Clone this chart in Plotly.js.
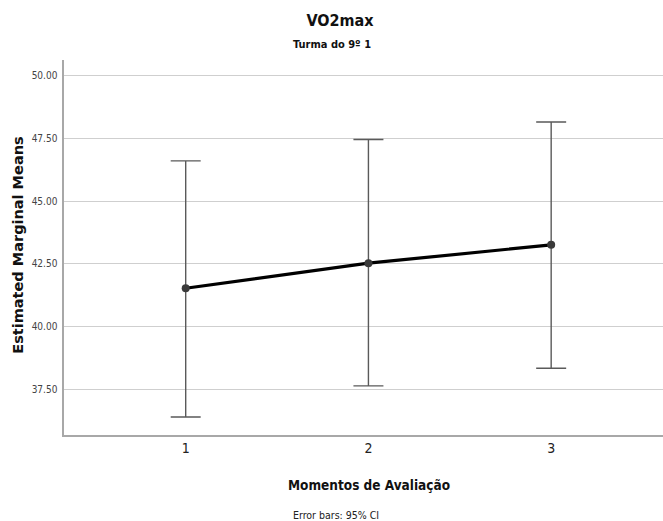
<!DOCTYPE html>
<html>
<head>
<meta charset="utf-8">
<script src="https://cdn.plot.ly/plotly-3.0.1.min.js"></script>
<style>
  html, body { margin: 0; padding: 0; background: #fff; }
  #chart { width: 663px; height: 521px; }
</style>
</head>
<body>
<div id="chart"></div>
<script>
// Estimated marginal means of VO2max at each assessment moment, with 95% CI
const moments = [1, 2, 3];
const means = [41.53, 42.53, 43.26];
const ciUpper = [46.61, 47.46, 48.16];
const ciLower = [36.40, 37.64, 38.34];
const yTicks = [37.5, 40, 42.5, 45, 47.5, 50];
const yTickLabels = ['37.50', '40.00', '42.50', '45.00', '47.50', '50.00'];

const condensed = '"DejaVu Sans Condensed", "Liberation Sans Narrow", "DejaVu Sans", sans-serif';
const plotW = 599, plotH = 375.5, plotLeft = 64, plotTop = 60;
const px = (x) => (x - plotLeft) / plotW;        // page x -> paper x
const py = (y) => 1 - (y - plotTop) / plotH;      // page y -> paper y

const trace = {
  x: moments,
  y: means,
  type: 'scatter',
  mode: 'lines+markers',
  line: { color: '#000000', width: 3.2 },
  marker: { color: '#3a3a3a', size: 8 },
  error_y: {
    type: 'data',
    symmetric: false,
    array: means.map((m, i) => ciUpper[i] - m),
    arrayminus: means.map((m, i) => m - ciLower[i]),
    color: '#5a5a5a',
    thickness: 1.4,
    width: 15
  },
  hoverinfo: 'skip',
  showlegend: false
};

const layout = {
  width: 663,
  height: 521,
  margin: { l: plotLeft, r: 0, t: plotTop, b: 521 - plotTop - plotH },
  paper_bgcolor: '#ffffff',
  plot_bgcolor: '#ffffff',
  title: {
    text: 'VO2max',
    font: { family: condensed, size: 16, color: '#111111', weight: 'bold' },
    x: px(340), xref: 'paper', xanchor: 'center',
    y: 1 - 20 / 521, yref: 'container', yanchor: 'middle'
  },
  xaxis: {
    range: [0.334, 3.612],
    tickvals: moments,
    ticktext: moments.map(String),
    ticks: '',
    showgrid: false,
    zeroline: false,
    showline: true,
    linecolor: '#a8a8a8',
    linewidth: 1.6,
    tickfont: { family: condensed, size: 14, color: '#222222' },
    title: { text: '' },
    automargin: false
  },
  yaxis: {
    range: [35.68, 50.63],
    tickvals: yTicks,
    ticktext: yTickLabels,
    ticks: '',
    showgrid: true,
    gridcolor: '#cfcfcf',
    gridwidth: 1,
    zeroline: false,
    showline: true,
    linecolor: '#a8a8a8',
    linewidth: 1.6,
    tickfont: { family: condensed, size: 10, color: '#444444' },
    ticklabelstandoff: 3,
    title: { text: '' },
    automargin: false
  },
  annotations: [
    {
      text: 'Turma do 9º 1',
      xref: 'paper', yref: 'paper',
      x: px(332), y: py(44),
      xanchor: 'center', yanchor: 'middle',
      showarrow: false,
      font: { family: condensed, size: 11, color: '#111111', weight: 'bold' }
    },
    {
      text: 'Estimated Marginal Means',
      xref: 'paper', yref: 'paper',
      x: px(18), y: py(246),
      xanchor: 'center', yanchor: 'middle',
      textangle: -90,
      showarrow: false,
      font: { family: '"DejaVu Sans", Verdana, sans-serif', size: 14.5, color: '#111111', weight: 'bold' }
    },
    {
      text: 'Momentos de Avaliação',
      xref: 'paper', yref: 'paper',
      x: px(369), y: py(486),
      xanchor: 'center', yanchor: 'middle',
      showarrow: false,
      font: { family: condensed, size: 13.5, color: '#111111', weight: 'bold' }
    },
    {
      text: 'Error bars: 95% CI',
      xref: 'paper', yref: 'paper',
      x: px(336), y: py(516),
      xanchor: 'center', yanchor: 'middle',
      showarrow: false,
      font: { family: condensed, size: 10.5, color: '#222222' }
    }
  ]
};

Plotly.newPlot('chart', [trace], layout, { staticPlot: true, displayModeBar: false });
</script>
</body>
</html>
